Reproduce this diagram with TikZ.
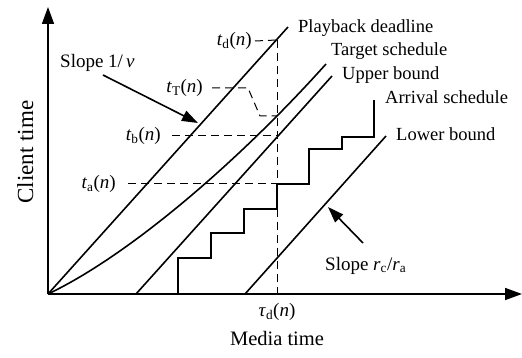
\documentclass[tikz,border=0pt]{standalone}
\usepackage{fontspec}
\setmainfont{Liberation Serif}
\usetikzlibrary{arrows.meta}
\newcommand\tlab[1]{\textit{t}\textsubscript{#1}(\textit{n})}
\begin{document}
\begin{tikzpicture}[x=1pt,y=-1pt,
  curve/.style={line width=1.6pt},
  axis/.style={line width=1.6pt,-{Triangle[length=17pt,width=12pt]}},
  guide/.style={line width=1pt,dash pattern=on 8pt off 5pt},
  pointer/.style={line width=1.6pt,-{Triangle[length=16pt,width=11pt]}},
  txt/.style={font=\fontsize{18.5}{20}\selectfont,inner sep=0pt},
  mtxt/.style={font=\fontsize{19}{20}\selectfont,inner sep=0pt},
]
\useasboundingbox (0,0) rectangle (522,358);

% axes
\coordinate (O) at (48,294);
\coordinate (ytop) at (48,7);
\coordinate (xend) at (522,294);
\draw[axis] (O) -- (ytop);
\draw[axis] (O) -- (xend);

% playback deadline
\coordinate (pd) at (288,27);
\draw[curve] (O) -- (pd);
\node[txt,anchor=base west] (pdl) at (298,33) {Playback deadline};

% target schedule
\coordinate (ts) at (326,64);
\draw[curve] (O) .. controls (130,255) and (240,160) .. (ts);
\node[txt,anchor=base west] (tsl) at (331,56) {Target schedule};

% upper bound
\coordinate (ub0) at (136,294);
\coordinate (ub1) at (332,76);
\draw[curve] (ub0) -- (ub1);
\node[txt,anchor=base west] (ubl) at (342,80) {Upper bound};

% lower bound
\coordinate (lb0) at (245,294);
\coordinate (lb1) at (386,136);
\draw[curve] (lb0) -- (lb1);
\node[txt,anchor=base west] (lbl) at (396,141) {Lower bound};

% arrival schedule
\coordinate (as0) at (178,294);
\coordinate (as1) at (374,100);
\draw[curve] (as0) |- (211,258) |- (244,233) |- (277,209) |- (309,184) |- (342,149) |- (374,137) -- (as1);
\node[txt,anchor=base west] (asl) at (385,104) {Arrival schedule};

% guides
\coordinate (Pd) at (277,40);
\coordinate (taub) at (277,298);
\draw[guide] (Pd) -- (taub);
\node[mtxt,anchor=center] (taul) at (277,312) {\textit{τ}\textsubscript{d}(\textit{n})};

\node[mtxt,anchor=east] (tdl) at (252,41) {\tlab{d}};
\draw[guide] ([xshift=3pt]tdl.east) -- (Pd);

\coordinate (PT) at (277,116);
\node[mtxt,anchor=east] (tTl) at (203,88) {\tlab{T}};
\draw[guide] ([xshift=9pt]tTl.east) -- (248,88) -- (260,116) -- (PT);

\coordinate (Pb) at (277,136);
\node[mtxt,anchor=east] (tbl) at (161,136) {\tlab{b}};
\draw[guide] ([xshift=11pt]tbl.east) -- (Pb);

\coordinate (Pa) at (277,184);
\node[mtxt,anchor=east] (tal) at (116,184) {\tlab{a}};
\draw[guide] ([xshift=12pt]tal.east) -- (Pa);

% slope annotations
\node[mtxt,anchor=base west] (s1) at (60,68) {Slope 1/\,\textit{ν}};
\coordinate (s1a) at (103,75);
\coordinate (s1b) at (198,123);
\draw[pointer] (s1a) -- (s1b);

\node[mtxt,anchor=base west] (s2) at (325,270) {Slope \textit{r}\textsubscript{c}/\textit{r}\textsubscript{a}};
\coordinate (s2a) at (363,243);
\coordinate (s2b) at (328,207);
\draw[pointer] (s2a) -- (s2b);

% axis labels
\node[font=\fontsize{20.5}{22}\selectfont,inner sep=0pt,anchor=base] (mt) at (277,345) {Media time};
\node[font=\fontsize{23}{24}\selectfont,inner sep=0pt,anchor=base,rotate=90] (ct) at (33,152) {Client time};
\end{tikzpicture}
\end{document}
